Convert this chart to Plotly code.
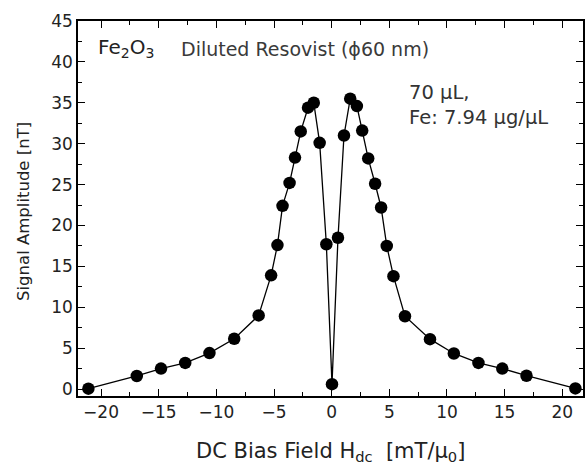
import plotly.graph_objects as go

field = [-21.1, -16.9, -14.8, -12.7, -10.6, -8.45, -6.33, -5.25, -4.7, -4.26, -3.65, -3.18,
         -2.68, -2.05, -1.55, -1.04, -0.46, 0.03, 0.55, 1.07, 1.61, 2.19, 2.65, 3.17,
         3.77, 4.29, 4.78, 5.36, 6.36, 8.53, 10.6, 12.73, 14.8, 16.9, 21.14]
amplitude = [0.05, 1.6, 2.5, 3.2, 4.4, 6.15, 9.0, 13.9, 17.6, 22.4, 25.2, 28.3,
             31.5, 34.4, 35.0, 30.1, 17.7, 0.6, 18.5, 31.0, 35.5, 34.6, 31.6, 28.2,
             25.1, 22.2, 17.5, 13.8, 8.9, 6.1, 4.35, 3.2, 2.5, 1.63, 0.08]

x_ticks = [-20, -15, -10, -5, 0, 5, 10, 15, 20]
y_ticks = [0, 5, 10, 15, 20, 25, 30, 35, 40, 45]

font_family = "DejaVu Sans, Liberation Sans, Arial, sans-serif"
txt = "#222222"

fig = go.Figure()
fig.add_trace(go.Scatter(
    x=field, y=amplitude, mode="lines+markers",
    line=dict(color="black", width=1.3),
    marker=dict(color="black", size=12.5),
    showlegend=False,
))

axis_common = dict(
    showgrid=False, zeroline=False, showline=True, linecolor="black", linewidth=1.5,
    mirror="ticks", ticks="inside", ticklen=7, tickwidth=1.3, tickcolor="black",
    tickfont=dict(family=font_family, size=17, color=txt), automargin=False,
)

fig.update_xaxes(
    range=[-22, 21.8], tickvals=x_ticks,
    ticktext=[f"\u2212{abs(v)}" if v < 0 else str(v) for v in x_ticks],
    minor=dict(dtick=2.5, ticks="inside", ticklen=4, tickwidth=1.2, tickcolor="black", showgrid=False),
    **axis_common,
)
fig.update_yaxes(
    range=[-0.85, 45], tickvals=y_ticks,
    minor=dict(dtick=2.5, ticks="inside", ticklen=4, tickwidth=1.2, tickcolor="black", showgrid=False),
    **axis_common,
)

# axis titles
fig.add_annotation(x=0.5, y=-0.15, xref="paper", yref="paper", xanchor="center", yanchor="middle",
                   text="DC Bias Field H<sub>dc</sub>  [mT/\u03bc<sub>0</sub>]", showarrow=False,
                   font=dict(family=font_family, size=21, color=txt))
fig.add_annotation(x=-0.108, y=0.492, xref="paper", yref="paper", xanchor="center", yanchor="middle",
                   text="Signal Amplitude [nT]", showarrow=False, textangle=-90,
                   font=dict(family=font_family, size=16.5, color=txt))

# in-plot labels
fig.add_annotation(x=0.036, y=0.928, xref="paper", yref="paper", xanchor="left", yanchor="middle",
                   text="Fe<sub>2</sub>O<sub>3</sub>", showarrow=False,
                   font=dict(family=font_family, size=20, color=txt))
fig.add_annotation(x=0.2, y=0.925, xref="paper", yref="paper", xanchor="left", yanchor="middle",
                   text="Diluted Resovist (\u03d560 nm)", showarrow=False,
                   font=dict(family=font_family, size=19, color="#3a3a3a"))
fig.add_annotation(x=0.651, y=0.776, xref="paper", yref="paper", xanchor="left", yanchor="middle",
                   text="70 \u03bcL,<br>Fe: 7.94 \u03bcg/\u03bcL", showarrow=False, align="left",
                   font=dict(family=font_family, size=19.5, color="#333333"))

fig.update_layout(
    width=585, height=466,
    margin=dict(l=78, r=2, t=21, b=70),
    paper_bgcolor="white", plot_bgcolor="white",
    font=dict(family=font_family, color=txt),
)

fig.write_html("out.html", config={"displayModeBar": False},
               post_script="document.body.style.margin='0';document.body.style.overflow='hidden';")
